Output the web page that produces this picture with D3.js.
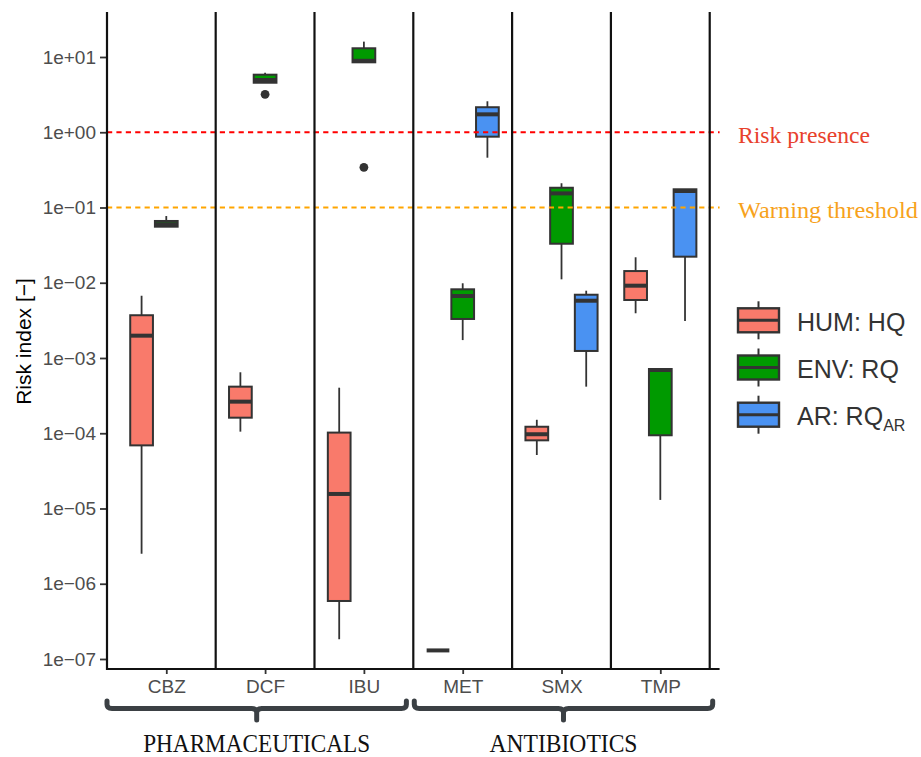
<!DOCTYPE html>
<html>
<head>
<meta charset="utf-8">
<script src="https://cdn.jsdelivr.net/npm/d3@7/dist/d3.min.js"></script>
<style>
  body { margin: 0; background: #fff; }
  svg { display: block; }
</style>
</head>
<body>
<svg width="921" height="757"></svg>
<script>
// categories and groups
var categories = ["CBZ", "DCF", "IBU", "MET", "SMX", "TMP"];
var groups = ["HUM", "ENV", "AR"];
var groupColors = ["#F97A6B", "#009A00", "#4A92F2"];

// five-number summaries per category: [whiskLow, q1, median, q3, whiskHigh]
var humStats = [
  [2.5e-6, 6.9e-5, 1.98e-3, 3.7e-3, 6.7e-3],
  [1.05e-4, 1.61e-4, 2.63e-4, 4.16e-4, 6.46e-4],
  [1.83e-7, 5.9e-7, 1.56e-5, 1.02e-4, 4.03e-4],
  [1.3e-7, 1.3e-7, 1.3e-7, 1.3e-7, 1.3e-7],
  [5.14e-5, 8.05e-5, 9.7e-5, 1.22e-4, 1.51e-4],
  [3.93e-3, 5.9e-3, 9.14e-3, 1.43e-2, 2.18e-2]
];
var envStats = [
  [0.0556, 0.0556, 0.060, 0.0662, 0.077],
  [4.55, 4.55, 4.95, 5.82, 6.18],
  [8.5, 8.5, 8.9, 13.06, 16.0],
  [1.73e-3, 3.30e-3, 6.67e-3, 8.18e-3, 9.84e-3],
  [0.0111, 0.033, 0.154, 0.183, 0.21],
  [1.3e-5, 9.4e-5, 6.93e-4, 7.14e-4, 7.14e-4]
];
var arStats = [
  null,
  null,
  null,
  [0.459, 0.873, 1.73, 2.15, 2.58],
  [4.16e-4, 1.24e-3, 5.77e-3, 6.93e-3, 7.84e-3],
  [3.1e-3, 2.22e-2, 0.1656, 0.1746, 0.1746]
];
// outliers: [category, group, value]
var outliers = [
  ["DCF", "ENV", 3.19],
  ["IBU", "ENV", 0.342]
];

var refValues = [1, 0.1];
var refLabels = ["Risk presence", "Warning threshold"];
var refColors = ["#FF0000", "#FFA500"];
var refTextColors = ["#E8412C", "#F7A21B"];

var yTicks = [1e1, 1e0, 1e-1, 1e-2, 1e-3, 1e-4, 1e-5, 1e-6, 1e-7];
var legendLabels = ["HUM: HQ", "ENV: RQ", "AR: RQ"];
var classLabels = ["PHARMACEUTICALS", "ANTIBIOTICS"];
var classMembers = [["CBZ", "IBU"], ["MET", "TMP"]];
var classLabelWidths = [227, 148];

var allStats = [humStats, envStats, arStats];

var svg = d3.select("svg");

var pLeft = 107, pRight = 719.6, pTop = 12, pBottom = 669;

var x = d3.scalePoint()
  .domain(categories)
  .range([pLeft, pRight])
  .padding(0.6);
var step = x.step();

var y = d3.scaleLog()
  .domain([Math.pow(10, -7.133), Math.pow(10, 1.598)])
  .range([pBottom, pTop]);

var dodge = d3.scaleLinear().domain([0, 2]).range([-0.25 * step, 0.25 * step]);
var boxW = 0.23 * step;

var stroke = "#333333";

// boxes
var boxes = svg.append("g");
allStats.forEach(function(stats, gi) {
  stats.forEach(function(s, ci) {
    if (!s) return;
    var cx = x(categories[ci]) + dodge(gi);
    var g = boxes.append("g");
    g.append("line")
      .attr("x1", cx).attr("x2", cx)
      .attr("y1", y(s[0])).attr("y2", y(s[4]))
      .attr("stroke", stroke).attr("stroke-width", 1.8);
    g.append("rect")
      .attr("x", cx - boxW / 2)
      .attr("width", boxW)
      .attr("y", y(s[3]))
      .attr("height", Math.max(0, y(s[1]) - y(s[3])))
      .attr("fill", groupColors[gi])
      .attr("stroke", stroke).attr("stroke-width", 2);
    g.append("line")
      .attr("x1", cx - boxW / 2).attr("x2", cx + boxW / 2)
      .attr("y1", y(s[2])).attr("y2", y(s[2]))
      .attr("stroke", stroke).attr("stroke-width", 4);
  });
});

svg.append("g").selectAll("circle")
  .data(outliers)
  .enter()
  .append("circle")
  .attr("cx", function(d) { return x(d[0]) + dodge(groups.indexOf(d[1])); })
  .attr("cy", function(d) { return y(d[2]); })
  .attr("r", 4.4)
  .attr("fill", stroke);

// reference lines
refValues.forEach(function(v, i) {
  svg.append("line")
    .attr("x1", pLeft).attr("x2", pRight)
    .attr("y1", y(v)).attr("y2", y(v))
    .attr("stroke", refColors[i])
    .attr("stroke-width", 2.2)
    .attr("stroke-dasharray", "5.2,4.2");
  svg.append("text")
    .attr("x", 738)
    .attr("y", y(v) + 10.5)
    .attr("font-family", "Liberation Serif, serif")
    .attr("font-size", "24px")
    .attr("textLength", i === 0 ? 132 : 180)
    .attr("lengthAdjust", "spacingAndGlyphs")
    .attr("fill", refTextColors[i])
    .text(refLabels[i]);
});

// separators
svg.append("g").selectAll("line")
  .data(categories)
  .enter()
  .append("line")
  .attr("x1", function(d) { return x(d) + step / 2; })
  .attr("x2", function(d) { return x(d) + step / 2; })
  .attr("y1", pTop).attr("y2", pBottom)
  .attr("stroke", "#111").attr("stroke-width", 2.2);

// axes
var yAxis = svg.append("g")
  .attr("transform", "translate(" + pLeft + ",0)")
  .call(d3.axisLeft(y)
    .tickValues(yTicks)
    .tickSize(7)
    .tickSizeOuter(0)
    .tickPadding(4)
    .tickFormat(function(d) {
      var e = Math.round(Math.log10(d));
      var s = (e < 0 ? "\u2212" : "+") + (Math.abs(e) < 10 ? "0" : "") + Math.abs(e);
      return "1e" + s;
    }));
yAxis.select(".domain").remove();
yAxis.selectAll(".tick line").attr("stroke", "#333").attr("stroke-width", 1.8);
yAxis.selectAll(".tick text")
  .attr("font-family", "Liberation Sans, Arial, sans-serif")
  .attr("font-size", "19px")
  .attr("fill", "#4d4d4d");

svg.append("line")
  .attr("x1", pLeft).attr("x2", pLeft)
  .attr("y1", pTop).attr("y2", pBottom + 1)
  .attr("stroke", "#111").attr("stroke-width", 2.2);

var xAxis = svg.append("g")
  .attr("transform", "translate(0," + pBottom + ")")
  .call(d3.axisBottom(x).tickSize(5).tickSizeOuter(0).tickPadding(6));
xAxis.select(".domain").remove();
xAxis.selectAll(".tick line").attr("stroke", "#333").attr("stroke-width", 1.8);
xAxis.selectAll(".tick text")
  .attr("font-family", "Liberation Sans, Arial, sans-serif")
  .attr("font-size", "19px")
  .attr("fill", "#4d4d4d");

svg.append("line")
  .attr("x1", pLeft - 1).attr("x2", pRight)
  .attr("y1", pBottom).attr("y2", pBottom)
  .attr("stroke", "#111").attr("stroke-width", 2.2);

// y title
svg.append("text")
  .attr("transform", "translate(31," + ((pTop + pBottom) / 2 + 1) + ") rotate(-90)")
  .attr("text-anchor", "middle")
  .attr("font-family", "Liberation Sans, Arial, sans-serif")
  .attr("font-size", "21px")
  .attr("fill", "#000")
  .text("Risk index [\u2212]");

// legend
var legend = svg.append("g");
groups.forEach(function(g, i) {
  var cy = 320.3 + i * 47.2;
  var kx = 738, kw = 41, kh = 24;
  legend.append("line")
    .attr("x1", kx + kw / 2).attr("x2", kx + kw / 2)
    .attr("y1", cy - 19).attr("y2", cy + 19)
    .attr("stroke", stroke).attr("stroke-width", 2);
  legend.append("rect")
    .attr("x", kx).attr("y", cy - kh / 2)
    .attr("width", kw).attr("height", kh)
    .attr("fill", groupColors[i])
    .attr("stroke", stroke).attr("stroke-width", 2.4);
  legend.append("line")
    .attr("x1", kx).attr("x2", kx + kw)
    .attr("y1", cy).attr("y2", cy)
    .attr("stroke", stroke).attr("stroke-width", 3);
  var t = legend.append("text")
    .attr("x", 797)
    .attr("y", cy + 10.5)
    .attr("font-family", "Liberation Sans, Arial, sans-serif")
    .attr("font-size", "25px")
    .attr("fill", "#333")
    .text(legendLabels[i]);
  if (g === "AR") {
    t.append("tspan")
      .attr("font-size", "16px")
      .attr("dy", 6)
      .text("AR");
  }
});

// class braces
classMembers.forEach(function(m, i) {
  var x0 = i === 0 ? x(m[0]) - 0.6 * step : x(m[0]) - 0.49 * step;
  var x1 = i === 0 ? x(m[1]) + 0.43 * step : x(m[1]) + 0.53 * step;
  var mid = (x0 + x1) / 2;
  var by = 708.5;
  var p = d3.path();
  p.moveTo(x0, 701);
  p.lineTo(x0, by - 4);
  p.quadraticCurveTo(x0, by, x0 + 5, by);
  p.lineTo(mid - 5, by);
  p.quadraticCurveTo(mid, by, mid, by + 4);
  p.lineTo(mid, 720);
  p.moveTo(mid, by + 4);
  p.quadraticCurveTo(mid, by, mid + 5, by);
  p.lineTo(x1 - 5, by);
  p.quadraticCurveTo(x1, by, x1, by - 4);
  p.lineTo(x1, 701);
  svg.append("path")
    .attr("d", p.toString())
    .attr("fill", "none")
    .attr("stroke", "#3b4044")
    .attr("stroke-width", 5)
    .attr("stroke-linecap", "round")
    .attr("stroke-linejoin", "round");
  svg.append("text")
    .attr("x", mid)
    .attr("y", 752)
    .attr("text-anchor", "middle")
    .attr("font-family", "Liberation Serif, serif")
    .attr("font-size", "26px")
    .attr("textLength", classLabelWidths[i])
    .attr("lengthAdjust", "spacingAndGlyphs")
    .attr("fill", "#111")
    .text(classLabels[i]);
});
</script>
</body>
</html>
